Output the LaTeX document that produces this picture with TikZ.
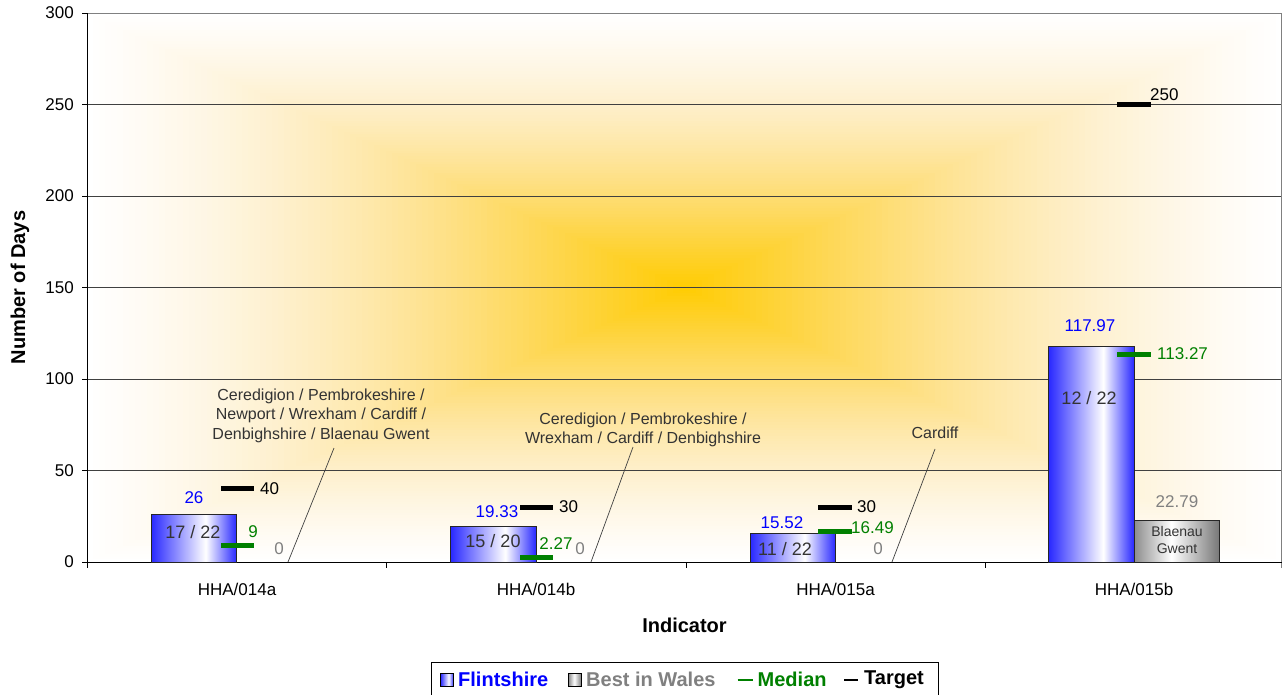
\documentclass[tikz,border=0pt]{standalone}
\usepackage{fontspec}
\setmainfont{Liberation Sans}
\definecolor{glow}{RGB}{255,204,0}
\definecolor{peach}{RGB}{253,222,165}
\definecolor{bblue}{RGB}{40,40,255}
\definecolor{bgray}{RGB}{140,140,140}
\definecolor{bgrayd}{RGB}{120,120,120}
\definecolor{mgreen}{RGB}{0,128,0}
\definecolor{lgray}{RGB}{128,128,128}
\definecolor{dtext}{RGB}{51,51,51}
\definecolor{gridc}{RGB}{64,64,64}
\pgfdeclarehorizontalshading{bluebar}{100bp}{color(0bp)=(bblue); color(25bp)=(bblue); color(57bp)=(white); color(75bp)=(bblue); color(100bp)=(bblue)}
\pgfdeclarehorizontalshading{graybar}{100bp}{color(0bp)=(bgray); color(25bp)=(bgray); color(47bp)=(white); color(75bp)=(bgrayd); color(100bp)=(bgrayd)}
\begin{document}
\begin{tikzpicture}[x=1pt,y=-1pt,
  fs/.style={font=\fontsize{#1}{#1}\selectfont},
  ticklab/.style={fs=17, inner sep=0pt},
  vallab/.style={fs=17, inner sep=0pt},
  inlab/.style={fs=18, inner sep=0pt, text=dtext},
  callt/.style={fs=16, inner sep=0pt, text=dtext, align=center},
  bartitle/.style={font=\fontsize{20}{20}\selectfont\bfseries, inner sep=0pt},
  fbar/.style={shading=bluebar, draw=black!85, line width=0.8pt, inner sep=0pt, outer sep=0pt, minimum width=85.5pt, anchor=south west},
  gbar/.style={shading=graybar, draw=black!85, line width=0.8pt, inner sep=0pt, outer sep=0pt, minimum width=85pt, anchor=south west},
  tgt/.style={fill=black, inner sep=0pt, minimum width=33.5pt, minimum height=5pt},
  med/.style={fill=mgreen, inner sep=0pt, minimum width=33.5pt, minimum height=5pt},
  grid/.style={draw=gridc, line width=0.8pt},
  callout/.style={draw=gridc, line width=0.7pt},
  axis/.style={draw=black, line width=0.8pt}
]
\useasboundingbox (0,0) rectangle (1284,695);
\fill[white] (0,0) rectangle (1284,695);
% background glow
\foreach \i in {0,...,99}{
  \pgfmathsetmacro\f{1-\i/100}
  \pgfmathsetmacro\p{100*(\i/100)^2.2}
  \pgfmathsetmacro\q{100*(\i/100)^0.9}
  \colorlet{glowtmp}{peach!\q!white}
  \fill[glow!\p!glowtmp] ({684.5-597.5*\f},{287.8-274.2*\f}) rectangle ({684.5+597.5*\f},{287.8+274.2*\f});
}
% gridlines
\foreach \v in {50,100,...,250}{
  \draw[grid] (87,{562-1.83*\v}) -- (1282,{562-1.83*\v});
}
\draw[draw=gray, line width=0.9pt] (87,13.1) -- (1282,13.1);
\draw[draw=gray, line width=0.9pt] (1281,13.1) -- (1281,568);
% axes
\draw[axis] (87,13.1) -- (87,562);
\draw[axis] (87,562) -- (1282,562);
\foreach \v in {0,50,...,300}{
  \draw[axis] (82,{562-1.83*\v}) -- (87,{562-1.83*\v});
  \node[ticklab, anchor=east] (yt\v) at (74,{562-1.83*\v}) {\v};
}
\foreach \x in {87,386.5,686,985.5}{
  \draw[axis] (\x,562) -- (\x,568);
}
% category labels
\node[ticklab] (cat1) at (237,589) {HHA/014a};
\node[ticklab] (cat2) at (536,589) {HHA/014b};
\node[ticklab] (cat3) at (835.5,589) {HHA/015a};
\node[ticklab] (cat4) at (1134,589) {HHA/015b};
% axis titles
\node[bartitle] (xtitle) at (684.5,625) {Indicator};
\node[bartitle, rotate=90] (ytitle) at (20,287.5) {Number of Days};

% ---------- HHA/014a
\node[fbar, minimum height={1.83*26}] (f1) at (151,562) {};
\node[vallab, text=blue] (f1v) at (194,498) {26};
\node[inlab] (f1i) at (193,532) {17 / 22};
\node[tgt] (t1) at (237.3,488.8) {};
\node[vallab, anchor=west] (t1v) at (260,489) {40};
\node[med] (m1) at (237.3,545.5) {};
\node[vallab, text=mgreen] (m1v) at (253,532) {9};
\node[vallab, text=lgray] (w1v) at (279,549) {0};
\coordinate (c1a) at (288,562);
\coordinate (c1b) at (334,448);
\draw[callout] (c1a) -- (c1b);
\node[callt] (c1t) at (321,396) {Ceredigion / Pembrokeshire /};
\node[callt] (c1t2) at (321,415.5) {Newport / Wrexham / Cardiff /};
\node[callt] (c1t3) at (321,435) {Denbighshire / Blaenau Gwent};

% ---------- HHA/014b
\node[fbar, minimum height={1.83*19.33}] (f2) at (450.5,562) {};
\node[vallab, text=blue] (f2v) at (497,512) {19.33};
\node[inlab] (f2i) at (493,541) {15 / 20};
\node[tgt] (t2) at (536.5,507.1) {};
\node[vallab, anchor=west] (t2v) at (559,507) {30};
\node[med] (m2) at (536.5,557.8) {};
\node[vallab, text=mgreen] (m2v) at (556,544) {2.27};
\node[vallab, text=lgray] (w2v) at (580,549) {0};
\coordinate (c2a) at (591,562);
\coordinate (c2b) at (633,447);
\draw[callout] (c2a) -- (c2b);
\node[callt] (c2t) at (643,420) {Ceredigion / Pembrokeshire /};
\node[callt] (c2t2) at (643,439.5) {Wrexham / Cardiff / Denbighshire};

% ---------- HHA/015a
\node[fbar, minimum height={1.83*15.52}] (f3) at (750,562) {};
\node[vallab, text=blue] (f3v) at (782,523) {15.52};
\node[inlab] (f3i) at (785,549) {11 / 22};
\node[tgt] (t3) at (835,507.1) {};
\node[vallab, anchor=west] (t3v) at (857,507) {30};
\node[med] (m3) at (835,531.8) {};
\node[vallab, text=mgreen, anchor=west] (m3v) at (851,528) {16.49};
\node[vallab, text=lgray] (w3v) at (878,549) {0};
\coordinate (c3a) at (892,562);
\coordinate (c3b) at (935,449);
\draw[callout] (c3a) -- (c3b);
\node[callt] (c3t) at (935,433) {Cardiff};

% ---------- HHA/015b
\node[fbar, minimum height={1.83*117.97}] (f4) at (1048.5,562) {};
\node[vallab, text=blue] (f4v) at (1090,326) {117.97};
\node[inlab] (f4i) at (1089,398) {12 / 22};
\node[med] (m4) at (1134,354.7) {};
\node[vallab, text=mgreen, anchor=west] (m4v) at (1157,354) {113.27};
\node[tgt] (t4) at (1134,104.5) {};
\node[vallab, anchor=west] (t4v) at (1150,95) {250};
\node[gbar, minimum height={1.83*22.79}] (g4) at (1134,562) {};
\node[vallab, text=lgray] (g4v) at (1177,502) {22.79};
\node[fs=14, inner sep=0pt, text=dtext] (g4i) at (1177,531) {Blaenau};
\node[fs=14, inner sep=0pt, text=dtext] (g4i2) at (1177,549) {Gwent};

% ---------- legend
\draw[draw=black, line width=0.8pt, fill=white] (431.5,662) rectangle (938.5,698);
\node[shading=bluebar, draw=black, line width=0.6pt, minimum size=13pt, inner sep=0pt] (lf) at (447,679.5) {};
\node[bartitle, text=blue, anchor=west] (lft) at (458,679.5) {Flintshire};
\node[shading=graybar, draw=black, line width=0.6pt, minimum size=13pt, inner sep=0pt] (lb) at (575,679.5) {};
\node[bartitle, text=lgray, anchor=west] (lbt) at (586,679.5) {Best in Wales};
\draw[draw=mgreen, line width=2pt] (737.5,679.5) -- (753,679.5);
\node[bartitle, text=mgreen, anchor=west] (lmt) at (757.5,679.5) {Median};
\draw[draw=black, line width=2pt] (844,679.5) -- (857.5,679.5);
\node[bartitle, anchor=west] (ltt) at (864,679.5) {Target};
\end{tikzpicture}
\end{document}
